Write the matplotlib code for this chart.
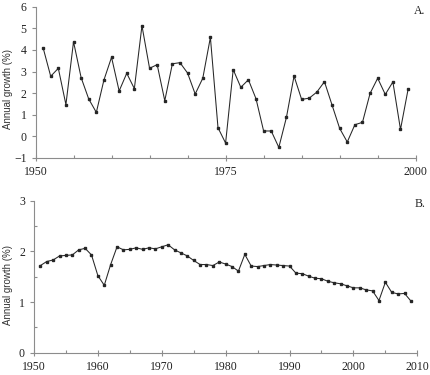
import matplotlib
matplotlib.use("Agg")
import matplotlib.pyplot as plt
from matplotlib.ticker import MultipleLocator

years_a = list(range(1951, 2000))
growth_a = [4.10, 2.78, 3.15, 1.47, 4.38, 2.72, 1.73, 1.11, 2.61, 3.66,
            2.10, 2.92, 2.21, 5.12, 3.15, 3.32, 1.65, 3.36, 3.41, 2.93,
            1.96, 2.69, 4.58, 0.40, -0.31, 3.09, 2.27, 2.62, 1.74, 0.25,
            0.25, -0.51, 0.88, 2.79, 1.71, 1.77, 2.05, 2.53, 1.45, 0.37,
            -0.26, 0.54, 0.65, 1.99, 2.69, 1.94, 2.52, 0.32, 2.18]

years_b = list(range(1951, 2010))
growth_b = [1.72, 1.80, 1.83, 1.91, 1.92, 1.93, 2.03, 2.06, 1.93, 1.52,
            1.33, 1.74, 2.09, 2.03, 2.04, 2.07, 2.04, 2.07, 2.05, 2.09,
            2.13, 2.03, 1.97, 1.91, 1.82, 1.74, 1.74, 1.72, 1.79, 1.75,
            1.70, 1.61, 1.94, 1.71, 1.70, 1.72, 1.74, 1.73, 1.72, 1.71,
            1.57, 1.56, 1.51, 1.47, 1.46, 1.41, 1.38, 1.36, 1.32, 1.28,
            1.28, 1.24, 1.22, 1.03, 1.39, 1.19, 1.16, 1.17, 1.02]

ylabel = "Annual growth (%)"
panel_a = "A."
panel_b = "B."

W, H = 430, 375
fig = plt.figure(figsize=(W / 100, H / 100), dpi=100)

serif = ["Liberation Serif", "DejaVu Serif"]
spine_col = "#8c8c8c"

def style(ax):
    for s in ("top", "right"):
        ax.spines[s].set_visible(False)
    for s in ("left", "bottom"):
        ax.spines[s].set_color(spine_col)
        ax.spines[s].set_linewidth(0.8)
    ax.tick_params(which="both", colors=spine_col, labelcolor="#222222",
                   labelsize=8.5, width=0.8)
    ax.tick_params(which="major", length=3, direction="out")
    ax.tick_params(axis="x", which="major", direction="inout", length=5)
    ax.tick_params(which="minor", length=2.5, direction="in")
    for lab in ax.get_xticklabels() + ax.get_yticklabels():
        lab.set_fontfamily(serif)

def rect(l, t, r, b):
    return [l / W, 1 - b / H, (r - l) / W, (b - t) / H]

line_kw = dict(color="#262626", lw=0.75, marker="s", ms=1.9)

axA = fig.add_axes(rect(35.5, 6.7, 415.7, 158))
axA.plot(years_a, growth_a, **line_kw)
axA.set_xlim(1950, 2000)
axA.set_ylim(-1, 6)
axA.xaxis.set_major_locator(MultipleLocator(25))
axA.xaxis.set_minor_locator(MultipleLocator(5))
axA.yaxis.set_major_locator(MultipleLocator(1))
style(axA)

axB = fig.add_axes(rect(34, 200.7, 417.3, 352.7))
axB.plot(years_b, growth_b, **line_kw)
axB.set_xlim(1950, 2010)
axB.set_ylim(0, 3)
axB.xaxis.set_major_locator(MultipleLocator(10))
axB.xaxis.set_minor_locator(MultipleLocator(5))
axB.yaxis.set_major_locator(MultipleLocator(1))
axB.yaxis.set_minor_locator(MultipleLocator(0.5))
style(axB)

for y_center in (89, 285):
    fig.text(8 / W, 1 - y_center / H, ylabel, rotation=90, ha="center",
             va="center", fontsize=7, family=["Liberation Sans", "DejaVu Sans"],
             color="#333333")

fig.text(425 / W, 1 - 11 / H, panel_a, ha="right", va="center",
         fontsize=8.5, family=serif, color="#222222")
fig.text(425 / W, 1 - 204 / H, panel_b, ha="right", va="center",
         fontsize=8.5, family=serif, color="#222222")

fig.savefig("out.png", dpi=100)
